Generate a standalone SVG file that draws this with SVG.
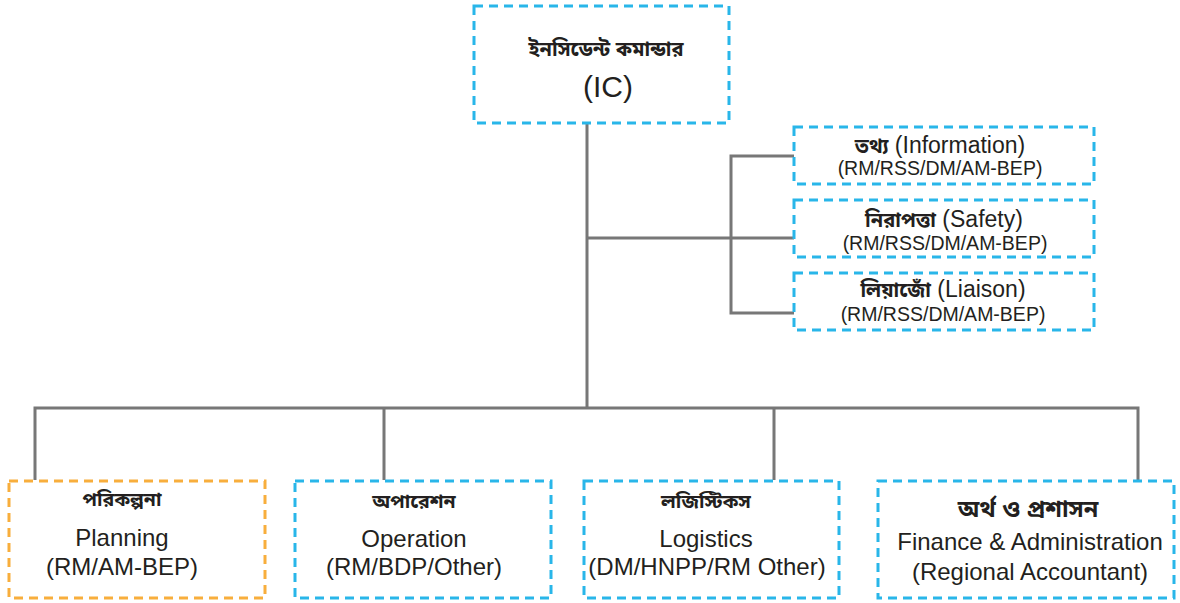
<svg xmlns="http://www.w3.org/2000/svg" width="1180" height="603" viewBox="0 0 1180 603">
<style>
.bx{fill:#fff;stroke:#29b6e9;stroke-width:3;stroke-dasharray:9 6}
.or{stroke:#f8ae3c}
.ln{fill:none;stroke:#777;stroke-width:3}
text{font-family:"Liberation Sans","Noto Sans Bengali","Noto Serif Bengali","Lohit Bengali","Noto Sans",sans-serif;fill:#231f20;text-anchor:middle}
.bn{font-size:19.5px;font-weight:bold}
.en{font-size:24px}
.sm{font-size:19.5px}
.md{font-size:23px}
.mb{font-size:20px;font-weight:bold}
</style>
<g id="connectors" class="ln">
<path d="M587 123V408"/>
<path d="M35 480V408H1138V480"/>
<path d="M384 408V480M774 408V480"/>
<path d="M587 238H794"/>
<path d="M794 156H731V313H794"/>
</g>
<g id="ic">
<rect class="bx" x="474" y="6" width="255" height="117"/>
<text x="606" y="56" class="bn" style="font-size:20px">ইনসিডেন্ট কমান্ডার</text>
<text x="608" y="97" style="font-size:30px">(IC)</text>
</g>
<g id="info">
<rect class="bx" x="794" y="127" width="300" height="57"/>
<text x="940" y="153" class="md"><tspan class="mb">তথ্য</tspan> (Information)</text>
<text x="940" y="175" class="sm">(RM/RSS/DM/AM-BEP)</text>
</g>
<g id="safety">
<rect class="bx" x="794" y="200" width="300" height="57"/>
<text x="944" y="227" class="md"><tspan class="mb">নিরাপত্তা</tspan> (Safety)</text>
<text x="945" y="250" class="sm">(RM/RSS/DM/AM-BEP)</text>
</g>
<g id="liaison">
<rect class="bx" x="794" y="273" width="300" height="57"/>
<text x="943" y="297" class="md"><tspan class="mb">লিয়াজোঁ</tspan> (Liaison)</text>
<text x="943" y="321" class="sm">(RM/RSS/DM/AM-BEP)</text>
</g>
<g id="planning">
<rect class="bx or" x="9" y="481" width="256" height="117"/>
<text x="122" y="506" class="bn">পরিকল্পনা</text>
<text x="122" y="546" class="en">Planning</text>
<text x="122" y="575" class="en">(RM/AM-BEP)</text>
</g>
<g id="operation">
<rect class="bx" x="295" y="481" width="256" height="117"/>
<text x="414" y="508" class="bn">অপারেশন</text>
<text x="414" y="547" class="en">Operation</text>
<text x="414" y="575" class="en">(RM/BDP/Other)</text>
</g>
<g id="logistics">
<rect class="bx" x="584" y="481" width="255" height="117"/>
<text x="706" y="508" class="bn">লজিস্টিকস</text>
<text x="706" y="547" class="en">Logistics</text>
<text x="707" y="575" class="en">(DM/HNPP/RM Other)</text>
</g>
<g id="finance">
<rect class="bx" x="878" y="481" width="296" height="117"/>
<text x="1028" y="517" class="bn" style="font-size:23.5px">অর্থ ও প্রশাসন</text>
<text x="1030" y="550" class="en">Finance &amp; Administration</text>
<text x="1030" y="580" class="en">(Regional Accountant)</text>
</g>
</svg>
